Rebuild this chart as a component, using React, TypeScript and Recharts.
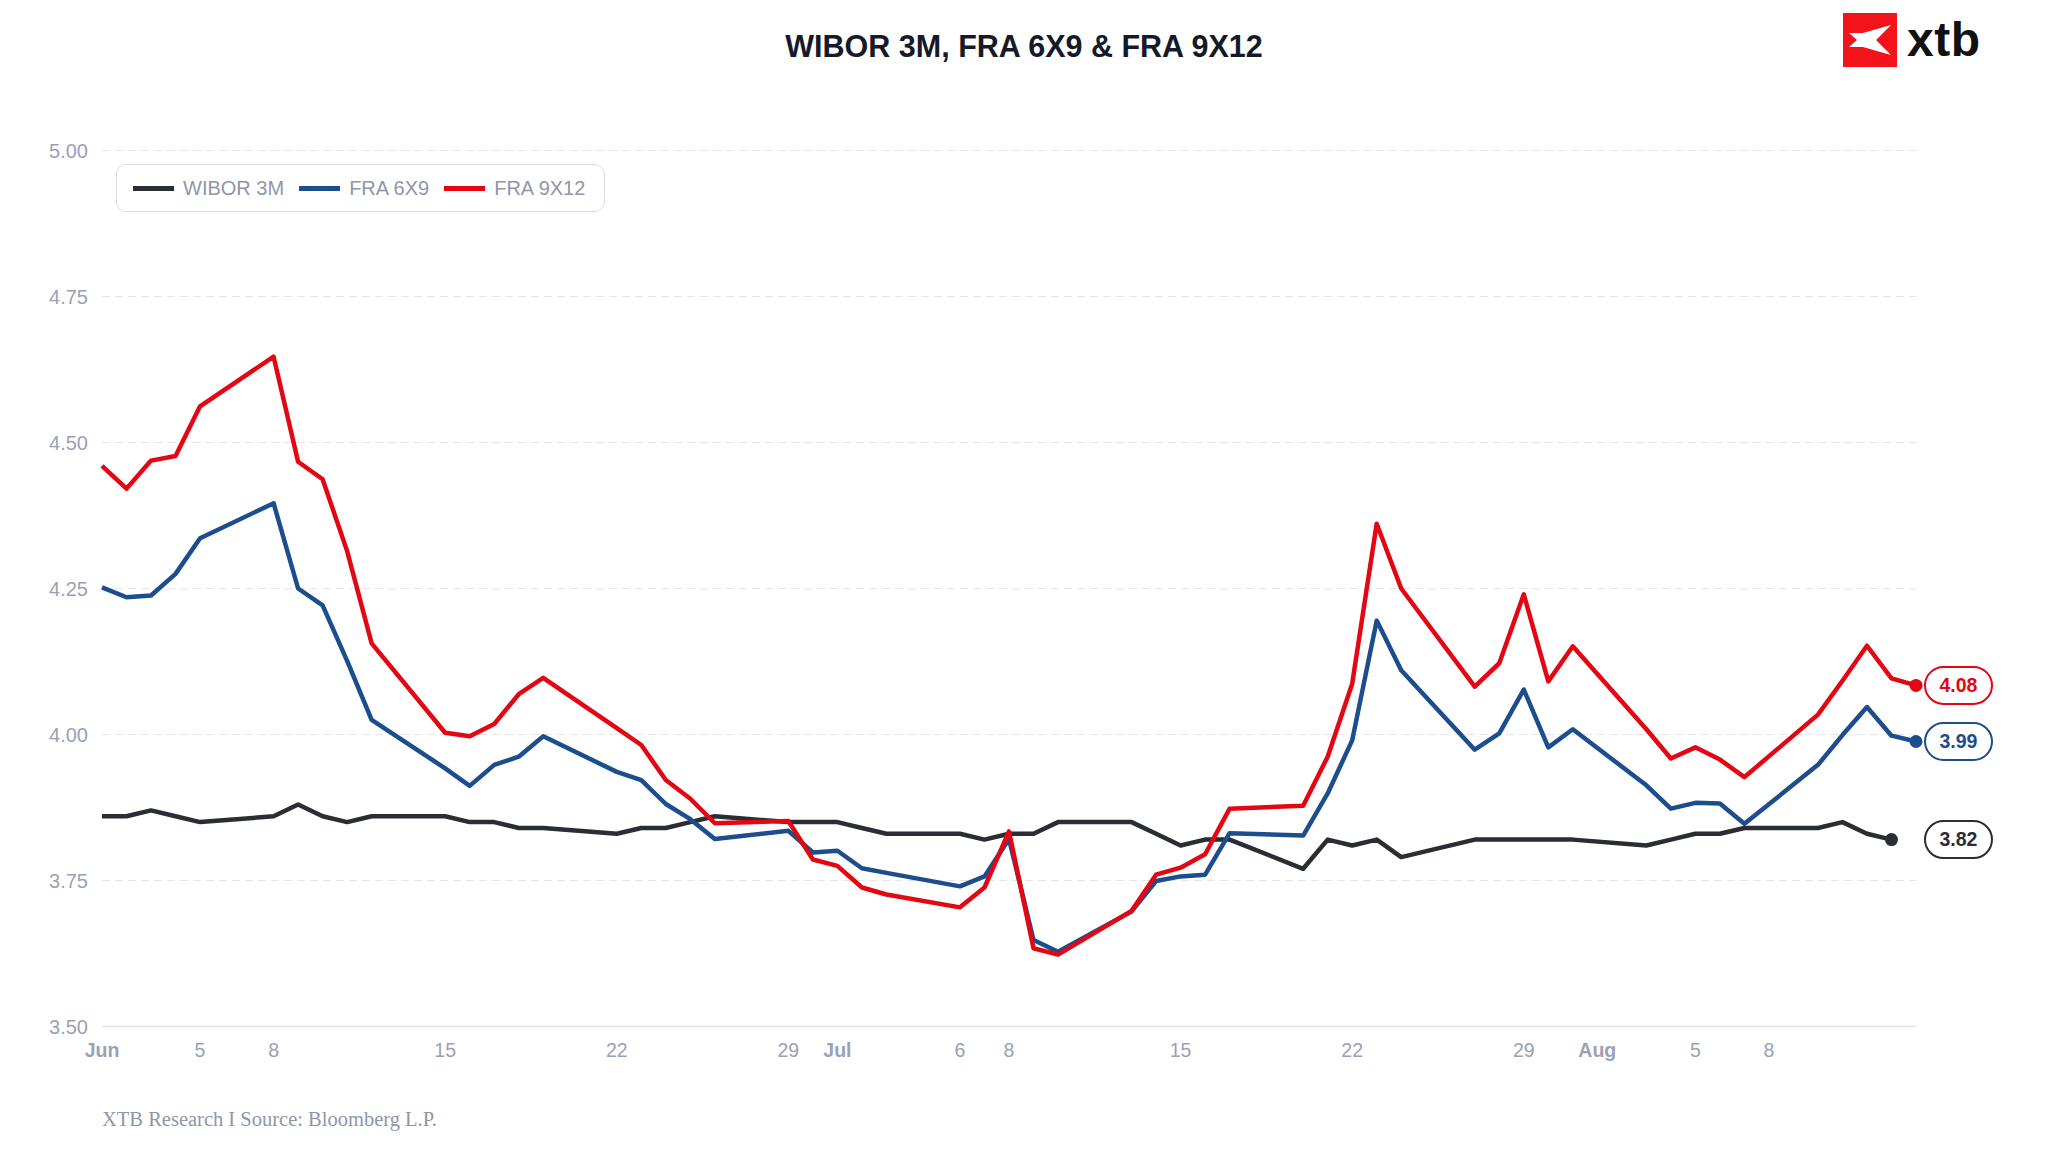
import { LineChart, Line, XAxis, YAxis, CartesianGrid, Legend } from 'recharts'

// trading days (Jun 1 = Monday)
const dates = [
  '2026-06-01', '2026-06-02', '2026-06-03', '2026-06-04', '2026-06-05',
  '2026-06-08', '2026-06-09', '2026-06-10', '2026-06-11', '2026-06-12',
  '2026-06-15', '2026-06-16', '2026-06-17', '2026-06-18', '2026-06-19',
  '2026-06-22', '2026-06-23', '2026-06-24', '2026-06-25', '2026-06-26',
  '2026-06-29', '2026-06-30', '2026-07-01', '2026-07-02', '2026-07-03',
  '2026-07-06', '2026-07-07', '2026-07-08', '2026-07-09', '2026-07-10',
  '2026-07-13', '2026-07-14', '2026-07-15', '2026-07-16', '2026-07-17',
  '2026-07-20', '2026-07-21', '2026-07-22', '2026-07-23', '2026-07-24',
  '2026-07-27', '2026-07-28', '2026-07-29', '2026-07-30', '2026-07-31',
  '2026-08-03', '2026-08-04', '2026-08-05', '2026-08-06', '2026-08-07',
  '2026-08-10', '2026-08-11', '2026-08-12', '2026-08-13', '2026-08-14',
]

const wibor3m = [
  3.86, 3.86, 3.87, 3.86, 3.85,
  3.86, 3.88, 3.86, 3.85, 3.86,
  3.86, 3.85, 3.85, 3.84, 3.84,
  3.83, 3.84, 3.84, 3.85, 3.86,
  3.85, 3.85, 3.85, 3.84, 3.83,
  3.83, 3.82, 3.83, 3.83, 3.85,
  3.85, 3.83, 3.81, 3.82, 3.82,
  3.77, 3.82, 3.81, 3.82, 3.79,
  3.82, 3.82, 3.82, 3.82, 3.82,
  3.81, 3.82, 3.83, 3.83, 3.84,
  3.84, 3.85, 3.83, 3.82, null,
]

const fra6x9 = [
  4.252, 4.235, 4.238, 4.275, 4.336,
  4.396, 4.25, 4.221, 4.126, 4.025,
  3.942, 3.912, 3.948, 3.962, 3.997,
  3.936, 3.922, 3.881, 3.855, 3.821,
  3.835, 3.798, 3.801, 3.771, 3.763,
  3.74, 3.757, 3.821, 3.648, 3.628,
  3.697, 3.749, 3.757, 3.76, 3.831,
  3.827, 3.899, 3.99, 4.195, 4.11,
  3.974, 4.002, 4.077, 3.978, 4.009,
  3.913, 3.873, 3.883, 3.882, 3.847,
  3.948, 3.999, 4.047, 3.998, 3.988,
]

const fra9x12 = [
  4.46, 4.421, 4.469, 4.477, 4.562,
  4.647, 4.467, 4.437, 4.314, 4.156,
  4.003, 3.997, 4.018, 4.069, 4.097,
  4.011, 3.982, 3.922, 3.89, 3.848,
  3.852, 3.786, 3.775, 3.738, 3.726,
  3.704, 3.738, 3.834, 3.634, 3.623,
  3.698, 3.76, 3.772, 3.795, 3.873,
  3.878, 3.962, 4.087, 4.361, 4.25,
  4.082, 4.122, 4.24, 4.091, 4.151,
  4.009, 3.959, 3.978, 3.957, 3.927,
  4.034, 4.092, 4.152, 4.096, 4.084,
]

const tickDates = [
  '2026-06-01', '2026-06-05', '2026-06-08', '2026-06-15', '2026-06-22', '2026-06-29',
  '2026-07-01', '2026-07-06', '2026-07-08', '2026-07-15', '2026-07-22', '2026-07-29',
  '2026-08-01', '2026-08-05', '2026-08-08',
]
const tickLabels = ['Jun', '5', '8', '15', '22', '29', 'Jul', '6', '8', '15', '22', '29', 'Aug', '5', '8']
const yTicks = [3.5, 3.75, 4, 4.25, 4.5, 4.75, 5]

const series = [
  { key: 'wibor', name: 'WIBOR 3M', color: '#2a2d33', values: wibor3m },
  { key: 'fra69', name: 'FRA 6X9', color: '#1c4d8c', values: fra6x9 },
  { key: 'fra912', name: 'FRA 9X12', color: '#e30613', values: fra9x12 },
]

const DAY = 86400000
const toDay = (d: string) => (Date.parse(d) - Date.parse(dates[0])) / DAY
const tickDays = tickDates.map(toDay)
const lastDay = toDay(dates[dates.length - 1])

const data = dates.map((d, i) => ({
  day: toDay(d),
  wibor: wibor3m[i],
  fra69: fra6x9[i],
  fra912: fra9x12[i],
}))

const W = 2048
const H = 1152
const margin = { top: 150.5, right: 132, bottom: 95.5, left: 0 }
const PILL_X = W - margin.right + 9
const FONT = '"Liberation Sans", Arial, Helvetica, sans-serif'
const GREY = '#9aa1b5'

function XTick({ x, y, payload }: any) {
  const i = tickDays.indexOf(payload.value)
  const label = tickLabels[i] ?? ''
  const isMonth = isNaN(Number(label))
  return (
    <text
      x={x}
      y={y + 16}
      textAnchor="middle"
      fontSize={19.5}
      fontFamily={FONT}
      fontWeight={isMonth ? 700 : 400}
      fill={GREY}
    >
      {label}
    </text>
  )
}

function lastIndexOf(values: (number | null)[]) {
  for (let i = values.length - 1; i >= 0; i--) if (values[i] != null) return i
  return -1
}

function makeEndDot(color: string, values: (number | null)[]) {
  const last = lastIndexOf(values)
  return (props: any) => {
    const { cx, cy, index } = props
    if (index !== last || cx == null || cy == null) return <g key={`d${index}`} />
    return (
      <g key={`d${index}`}>
        <circle cx={cx} cy={cy} r={6.5} fill={color} />
        <rect
          x={PILL_X}
          y={cy - 18.5}
          width={67}
          height={37}
          rx={18.5}
          fill="#fff"
          stroke={color}
          strokeWidth={2}
        />
        <text
          x={PILL_X + 33.5}
          y={cy}
          dy="0.35em"
          textAnchor="middle"
          fontSize={19.5}
          fontWeight={700}
          fontFamily={FONT}
          fill={color}
        >
          {(values[last] as number).toFixed(2)}
        </text>
      </g>
    )
  }
}

function LegendBox() {
  return (
    <div
      style={{
        display: 'flex',
        alignItems: 'center',
        height: 46,
        padding: '0 19px 0 16px',
        border: '1.5px solid #d9dce4',
        borderRadius: 10,
        background: '#fff',
        fontFamily: FONT,
        fontSize: 20,
        color: '#8f96aa',
        whiteSpace: 'nowrap',
      }}
    >
      {series.map((s, i) => (
        <div key={s.key} style={{ display: 'flex', alignItems: 'center', marginLeft: i === 0 ? 0 : 15 }}>
          <span style={{ display: 'inline-block', width: 41, height: 5, background: s.color, marginRight: 9 }} />
          <span>{s.name}</span>
        </div>
      ))}
    </div>
  )
}

export default function App() {
  return (
    <div style={{ position: 'absolute', left: 0, top: 0, width: W, height: H, background: '#fff' }}>
      <LineChart width={W} height={H} data={data} margin={margin}>
        <CartesianGrid vertical={false} stroke="#e4e5ec" strokeDasharray="8 5" />
        <XAxis
          dataKey="day"
          type="number"
          domain={[0, lastDay]}
          ticks={tickDays}
          interval={0}
          height={30}
          tickLine={false}
          tickSize={6}
          tickMargin={8}
          axisLine={{ stroke: '#e3e4ea', strokeWidth: 1.5 }}
          tick={<XTick />}
        />
        <YAxis
          type="number"
          domain={[3.5, 5]}
          ticks={yTicks}
          interval={0}
          width={102}
          axisLine={false}
          tickLine={false}
          tickSize={6}
          tickMargin={8}
          tickFormatter={(v: number) => v.toFixed(2)}
          tick={{ fontSize: 20, fill: GREY, fontFamily: FONT }}
        />
        <Legend
          layout="vertical"
          align="center"
          verticalAlign="middle"
          content={<LegendBox />}
          wrapperStyle={{ left: 116, top: 164, width: 'auto' }}
        />
        {series.map((s) => (
          <Line
            key={s.key}
            type="linear"
            dataKey={s.key}
            name={s.name}
            stroke={s.color}
            strokeWidth={4.5}
            strokeLinejoin="round"
            dot={makeEndDot(s.color, s.values)}
            activeDot={false}
            isAnimationActive={false}
          />
        ))}
      </LineChart>
      <svg
        width={W}
        height={H}
        style={{ position: 'absolute', left: 0, top: 0, pointerEvents: 'none' }}
      >
        <text
          x={1024}
          y={57}
          textAnchor="middle"
          fontSize={30.5}
          fontWeight={700}
          fontFamily={FONT}
          fill="#141a2a"
        >
          WIBOR 3M, FRA 6X9 &amp; FRA 9X12
        </text>
        <g transform="translate(1843,13)">
          <rect width={54} height={54} fill="#f3141b" />
          <path d="M6 20 L20 20 L48 12 L33 27 L48 42 L20 34 L6 34 L14 27 Z" fill="#fff" />
        </g>
        <text x={1907} y={56} fontSize={48} fontWeight={700} fontFamily={FONT} fill="#111" letterSpacing={0.5}>
          xtb
        </text>
        <text
          x={102}
          y={1126}
          fontSize={20.5}
          fontFamily='"Liberation Serif", "Times New Roman", serif'
          fill="#8f96aa"
        >
          XTB Research I Source: Bloomberg L.P.
        </text>
      </svg>
    </div>
  )
}
